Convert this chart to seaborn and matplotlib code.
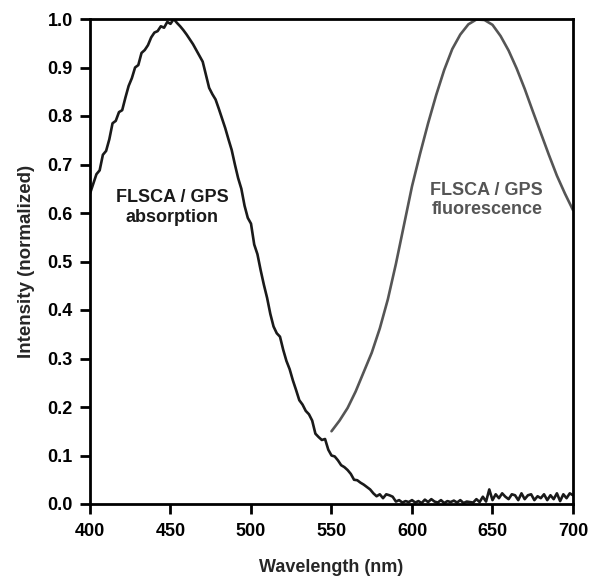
import numpy as np
import pandas as pd
import matplotlib
matplotlib.use("Agg")
import matplotlib.pyplot as plt
import seaborn as sns

# ---- data ----
abs_wavelength = list(range(400, 701, 2))
abs_intensity = [
    0.640, 0.660, 0.680, 0.688, 0.720, 0.728, 0.752, 0.785, 0.790, 0.808,
    0.812, 0.838, 0.862, 0.878, 0.900, 0.905, 0.930, 0.936, 0.946, 0.962,
    0.972, 0.975, 0.985, 0.982, 0.994, 0.990, 1.000, 0.992, 0.985, 0.977,
    0.968, 0.958, 0.948, 0.936, 0.924, 0.912, 0.885, 0.858, 0.845, 0.834,
    0.815, 0.795, 0.775, 0.752, 0.730, 0.700, 0.672, 0.650, 0.615, 0.590,
    0.578, 0.535, 0.515, 0.482, 0.452, 0.425, 0.392, 0.366, 0.352, 0.345,
    0.318, 0.295, 0.278, 0.255, 0.235, 0.214, 0.205, 0.192, 0.185, 0.172,
    0.145, 0.138, 0.132, 0.134, 0.112, 0.100, 0.098, 0.090, 0.080, 0.076,
    0.070, 0.062, 0.050, 0.049, 0.044, 0.040, 0.035, 0.030, 0.022, 0.016,
    0.020, 0.012, 0.020, 0.018, 0.015, 0.005, 0.008, 0.003, 0.006, 0.004,
    0.008, 0.003, 0.006, 0.002, 0.009, 0.004, 0.010, 0.005, 0.003, 0.008,
    0.002, 0.006, 0.004, 0.007, 0.003, 0.008, 0.002, 0.005, 0.004, 0.003,
    0.010, 0.004, 0.015, 0.005, 0.030, 0.008, 0.020, 0.012, 0.022, 0.015,
    0.010, 0.020, 0.018, 0.008, 0.022, 0.010, 0.018, 0.020, 0.008, 0.016,
    0.012, 0.020, 0.008, 0.018, 0.010, 0.022, 0.006, 0.020, 0.012, 0.022,
    0.018,
]

fl_wavelength = list(range(550, 701, 5))
fl_intensity = [
    0.150, 0.172, 0.198, 0.232, 0.272, 0.312, 0.362, 0.422, 0.495, 0.575,
    0.655, 0.722, 0.785, 0.843, 0.895, 0.938, 0.968, 0.989, 0.999, 0.998,
    0.988, 0.965, 0.935, 0.898, 0.856, 0.810, 0.765, 0.720, 0.677, 0.640,
    0.606,
]

x_ticks = [400, 450, 500, 550, 600, 650, 700]
y_ticks = [0.0, 0.1, 0.2, 0.3, 0.4, 0.5, 0.6, 0.7, 0.8, 0.9, 1.0]

abs_label = "FLSCA / GPS\nabsorption"
fl_label = "FLSCA / GPS\nfluorescence"
x_title = "Wavelength (nm)"
y_title = "Intensity (normalized)"

# ---- plotting ----
sns.set_style("ticks")
plt.rcParams["font.family"] = ["Liberation Sans", "DejaVu Sans"]
plt.rcParams["font.weight"] = "bold"

df_abs = pd.DataFrame({"wl": abs_wavelength, "val": abs_intensity})
df_fl = pd.DataFrame({"wl": fl_wavelength, "val": fl_intensity})

fig = plt.figure(figsize=(5.89, 5.77), dpi=100)
ax = fig.add_axes([90 / 589, (577 - 504) / 577, 483 / 589, 485 / 577])

sns.lineplot(data=df_abs, x="wl", y="val", ax=ax, color="#1a1a1a", linewidth=1.9)
sns.lineplot(data=df_fl, x="wl", y="val", ax=ax, color="#555555", linewidth=1.9)

ax.set_xlim(400, 700)
ax.set_ylim(0, 1.0)
ax.set_xticks(x_ticks)
ax.set_yticks(y_ticks)
ax.set_xticklabels([str(t) for t in x_ticks], fontsize=13, fontweight="bold")
ax.set_yticklabels([f"{t:.1f}" for t in y_ticks], fontsize=13, fontweight="bold")
ax.tick_params(axis="both", direction="out", length=7.5, width=2, colors="black")
ax.tick_params(axis="x", pad=6)
ax.tick_params(axis="y", pad=5)

for s in ax.spines.values():
    s.set_linewidth(2)
    s.set_color("black")
    s.set_visible(True)

ax.set_xlabel(x_title, fontsize=13, fontweight="bold", labelpad=14)
ax.set_ylabel(y_title, fontsize=13.5, fontweight="bold", labelpad=9)

ax.text(451, 0.611, abs_label, ha="center", va="center", fontsize=13,
        fontweight="bold", color="#1a1a1a", linespacing=1.2)
ax.text(646.5, 0.627, fl_label, ha="center", va="center", fontsize=13,
        fontweight="bold", color="#555555", linespacing=1.2)

fig.savefig("out.png", dpi=100)
